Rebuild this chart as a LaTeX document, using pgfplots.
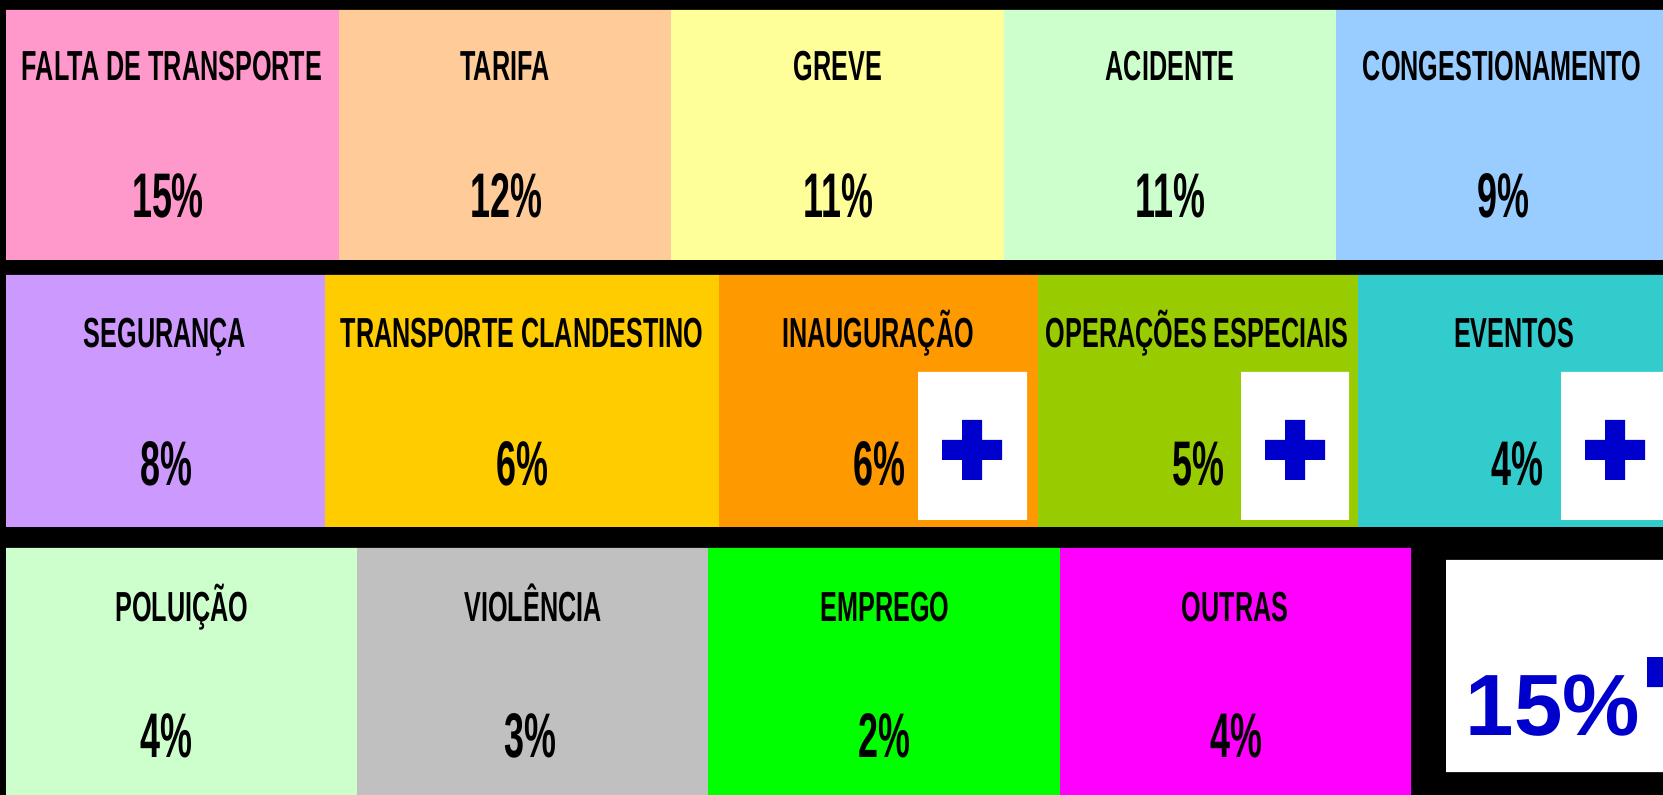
\documentclass[border=0pt]{standalone}
\usepackage{fontspec}
\usepackage{pgfplots}
\usepackage{pgfplotstable}
\pgfplotsset{compat=1.18}
\setmainfont{Liberation Sans}
\newfontfamily\labfamily[FakeStretch=0.60]{Liberation Sans}
\newfontfamily\valfamily[FakeStretch=0.57]{Liberation Sans}
\newfontfamily\bigfamily{Liberation Sans}
\newcommand\labfont{\labfamily\bfseries\fontsize{21pt}{21pt}\selectfont}
\newcommand\valfont{\valfamily\bfseries\fontsize{31.5pt}{31.5pt}\selectfont}
\newcommand\bigfont{\bigfamily\bfseries\fontsize{43.5pt}{43.5pt}\selectfont}
\definecolor{cFalta}{HTML}{FF99CC}
\definecolor{cTarifa}{HTML}{FFCC99}
\definecolor{cGreve}{HTML}{FFFF99}
\definecolor{cAcid}{HTML}{CCFFCC}
\definecolor{cCong}{HTML}{99CCFF}
\definecolor{cSeg}{HTML}{CC99FF}
\definecolor{cClan}{HTML}{FFCC00}
\definecolor{cInau}{HTML}{FF9900}
\definecolor{cOper}{HTML}{99CC00}
\definecolor{cEven}{HTML}{33CCCC}
\definecolor{cPolu}{HTML}{CCFFCC}
\definecolor{cViol}{HTML}{C0C0C0}
\definecolor{cEmpr}{HTML}{00FF00}
\definecolor{cOutr}{HTML}{FF00FF}
\definecolor{cBlue}{HTML}{0000CC}
\newcommand\tile[5]{\addplot[fill=#1, draw=none] coordinates {(#2,#4) (#3,#4) (#3,#5) (#2,#5) (#2,#4)};}

\pgfplotstableread[col sep=comma]{
x,y,label
172,66,FALTA DE TRANSPORTE
505,66,TARIFA
838,66,GREVE
1170,66,ACIDENTE
1502,66,CONGESTIONAMENTO
165,333,SEGURANÇA
522,333,TRANSPORTE CLANDESTINO
878,333,INAUGURAÇÃO
1197,333,OPERAÇÕES ESPECIAIS
1514,333,EVENTOS
182,606,POLUIÇÃO
533,606,VIOLÊNCIA
885,606,EMPREGO
1235,606,OUTRAS
}\labels

\pgfplotstableread[col sep=comma]{
x,y,value
168,195,15
506,195,12
838,195,11
1170,195,11
1503,195,9
166,463,8
522,463,6
879,463,6
1198,463,5
1517,463,4
166,735,4
530,735,3
884,735,2
1236,735,4
}\values

\pgfplotstableread[col sep=comma]{
x,y,value
1553,704,15
}\total

\begin{document}
\begin{tikzpicture}
\begin{axis}[
  width=831.5pt, height=397.5pt, scale only axis,
  xmin=0, xmax=1663, ymin=0, ymax=795,
  y dir=reverse, hide axis, clip=true,
]
\tile{black}{0}{1663}{0}{795}
% row 1
\tile{cFalta}{6}{339}{10}{260}
\tile{cTarifa}{339}{671}{10}{260}
\tile{cGreve}{671}{1004}{10}{260}
\tile{cAcid}{1004}{1336}{10}{260}
\tile{cCong}{1336}{1663}{10}{260}
% row 2
\tile{cSeg}{6}{325}{275}{527}
\tile{cClan}{325}{719}{275}{527}
\tile{cInau}{719}{1038}{275}{527}
\tile{cOper}{1038}{1358}{275}{527}
\tile{cEven}{1358}{1663}{275}{527}
% row 3
\tile{cPolu}{6}{357}{548}{795}
\tile{cViol}{357}{708}{548}{795}
\tile{cEmpr}{708}{1060}{548}{795}
\tile{cOutr}{1060}{1411}{548}{795}
% white boxes
\tile{white}{918}{1027}{372}{520}
\tile{white}{1241}{1349}{372}{520}
\tile{white}{1561}{1663}{372}{520}
\tile{white}{1446}{1663}{560}{772}
% crosses
\tile{cBlue}{942}{1002}{440}{460}
\tile{cBlue}{962}{982}{420}{480}
\tile{cBlue}{1265}{1325}{440}{460}
\tile{cBlue}{1285}{1305}{420}{480}
\tile{cBlue}{1585}{1645}{440}{460}
\tile{cBlue}{1605}{1625}{420}{480}
\tile{cBlue}{1647}{1663}{657}{687}
% labels
\addplot[only marks, mark=none, point meta=explicit symbolic,
  nodes near coords, nodes near coords align=center,
  every node near coord/.append style={font=\labfont, text=black, inner sep=0pt, text height=15pt, text depth=0pt}]
  table[x=x, y=y, meta=label] {\labels};
\addplot[only marks, mark=none, point meta=explicit symbolic,
  nodes near coords={\pgfplotspointmeta\%}, nodes near coords align=center,
  every node near coord/.append style={font=\valfont, text=black, inner sep=0pt, text height=22.5pt, text depth=0pt}]
  table[x=x, y=y, meta=value] {\values};
\addplot[only marks, mark=none, point meta=explicit symbolic,
  nodes near coords={\pgfplotspointmeta\%}, nodes near coords align=center,
  every node near coord/.append style={font=\bigfont, text=cBlue, inner sep=0pt, text height=31pt, text depth=0pt}]
  table[x=x, y=y, meta=value] {\total};
\end{axis}
\end{tikzpicture}
\end{document}
